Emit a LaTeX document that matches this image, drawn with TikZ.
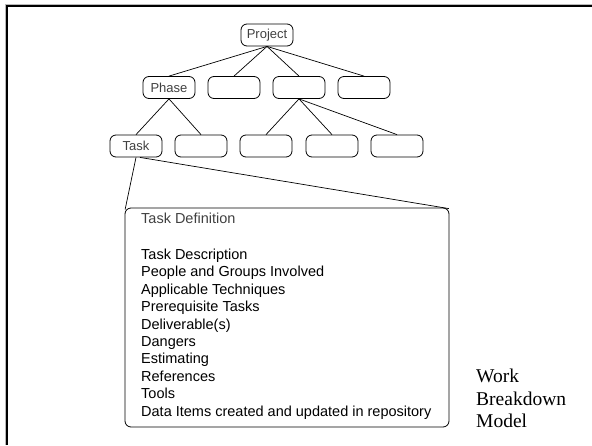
\documentclass[tikz,border=0pt]{standalone}
\usepackage{fontspec}
\setmainfont{Liberation Serif}
\newfontfamily\arialf{Liberation Sans}
\definecolor{nodetext}{HTML}{404040}
\begin{document}
\begin{tikzpicture}[x=1pt,y=1pt,
  wbs/.style={draw=black, line width=0.8pt, rounded corners=6pt, minimum width=52pt, minimum height=22pt, inner sep=0pt,
    font=\arialf\fontsize{13}{15}\selectfont, text=nodetext},
  link/.style={draw=black, line width=0.7pt}]
\useasboundingbox (0,0) rectangle (592,-445);
% frame
\draw[gray!55, line width=1pt] (5,-445) -- (5,-4) -- (592,-4);
\draw[black, line width=2.4pt] (7.2,-445) -- (7.2,-6.2) -- (592,-6.2);
% level 1
\node[wbs] (proj) at (267,-35) {Project};
% level 2
\node[wbs] (phase) at (169,-87.5) {Phase};
\node[wbs] (p2) at (234,-87.5) {};
\node[wbs] (p3) at (299,-87.5) {};
\node[wbs] (p4) at (364,-87.5) {};
% level 3
\node[wbs] (task) at (136,-146) {Task};
\node[wbs] (t2) at (201,-146) {};
\node[wbs] (t3) at (266,-146) {};
\node[wbs] (t4) at (332,-146) {};
\node[wbs] (t5) at (397,-146) {};
\foreach \c in {phase,p2,p3,p4} \draw[link] (proj.south) -- (\c.north);
\foreach \c in {task,t2} \draw[link] (phase.south) -- (\c.north);
\foreach \c in {t3,t4,t5} \draw[link] (p3.south) -- (\c.north);
% definition box
\node[draw=black, line width=0.8pt, rounded corners=6pt, minimum width=324pt, minimum height=219pt, inner sep=0pt] (def) at (287,-317.5) {};
\coordinate (defnw) at ([xshift=0.5pt,yshift=-2pt]def.north west);
\coordinate (defne) at ([xshift=-0.5pt,yshift=-1pt]def.north east);
\draw[link] (task.south) -- (defnw);
\draw[link] ([xshift=4pt]task.south) -- (defne);
\node[anchor=north west, inner sep=0pt, align=left, font=\arialf\fontsize{14.5}{17.45}\selectfont] (deftext) at (141,-212.5)
  {\textcolor{nodetext}{Task Definition}\\[18.6pt]
   Task Description\\
   People and Groups Involved\\
   Applicable Techniques\\
   Prerequisite Tasks\\
   Deliverable(s)\\
   Dangers\\
   Estimating\\
   References\\
   Tools\\
   Data Items created and updated in repository};
\node[anchor=north west, inner sep=0pt, align=left, font=\fontsize{19.5}{22.8}\selectfont] (title) at (476,-368.5)
  {Work\\Breakdown\\Model};
\end{tikzpicture}
\end{document}
